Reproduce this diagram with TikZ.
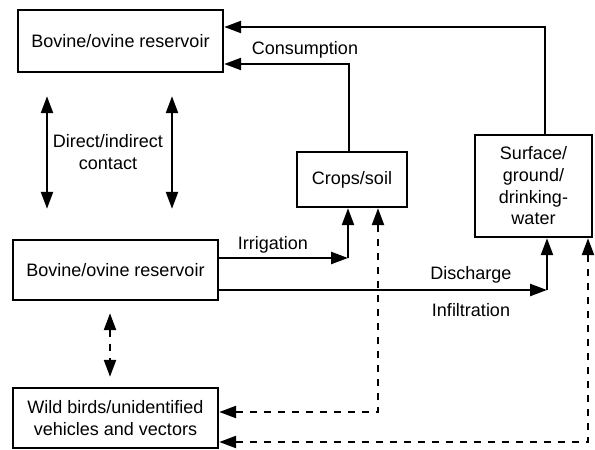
\documentclass[tikz,border=0pt]{standalone}
\usepackage{fontspec}
\setmainfont{Liberation Sans}
\usetikzlibrary{arrows.meta}

\begin{document}
\begin{tikzpicture}[x=1pt,y=-1pt,
		box/.style={draw,line width=2.4pt,align=center,inner sep=0pt,font=\fontsize{18}{21.7}\selectfont},
		lbl/.style={font=\fontsize{18}{21.7}\selectfont,align=center},
		flow/.style={line width=2.4pt,-{Triangle[length=17pt,width=12pt]}},
		twoway/.style={line width=2.4pt,{Triangle[length=17pt,width=12pt]}-{Triangle[length=17pt,width=12pt]}},
		dashflow/.style={twoway,dash pattern=on 7pt off 7pt}]
		\useasboundingbox (0,0) rectangle (595,450);

		% Boxes
		\node[box,minimum width=205pt,minimum height=62pt] (topres) at (120.5,41) {Bovine/ovine reservoir};
		\node[box,minimum width=205pt,minimum height=60pt] (midres) at (115.5,270) {Bovine/ovine reservoir};
		\node[box,minimum width=205pt,minimum height=60pt] (wild) at (115.5,418) {Wild birds/unidentified\\vehicles and vectors};
		\node[box,minimum width=110pt,minimum height=55pt] (crops) at (352,179.5) {Crops/soil};
		\node[box,minimum width=117pt,minimum height=102pt] (water) at (533.5,186) {Surface/\\ground/\\drinking-\\water};

		% Corners
		\coordinate (irr) at (348,258);
		\coordinate (dis) at (547,290);
		\coordinate (cropdrop) at (378,412);
		\coordinate (waterdrop) at (588,442);

		% Flows back to the top reservoir
		\draw[flow] ([xshift=11.5pt]water.north) |- ([yshift=14pt]topres.east);
		\draw[flow] ([xshift=-3pt]crops.north) |- ([yshift=-23pt]topres.east);
		\node[lbl] (consum) at (305,50) {Consumption};

		% Contact
		\draw[twoway,shorten <=23pt,shorten >=30pt] ([xshift=-73.5pt]topres.south) -- ([xshift=-73.5pt]topres.south |- midres.north);
		\draw[twoway,shorten <=23pt,shorten >=30pt] ([xshift=51.5pt]topres.south) -- ([xshift=51.5pt]topres.south |- midres.north);
		\node[lbl] (contact) at (108,152) {Direct/indirect\\contact};
		\draw[dashflow,shorten <=12pt,shorten >=10pt] ([xshift=-5.5pt]midres.south) -- ([xshift=-5.5pt]midres.south |- wild.north);

		% Irrigation and discharge
		\draw[flow] ([yshift=12pt]midres.east) -- (irr);
		\draw[flow] (irr) -- (crops.south -| irr);
		\node[lbl] (irrlbl) at (273,245) {Irrigation};
		\draw[flow] ([yshift=-20pt]midres.east) -- (dis);
		\draw[flow] (dis) -- (water.south -| dis);
		\node[lbl] (dislbl) at (471,275) {Discharge};
		\node[lbl] (inflbl) at (471,310) {Infiltration};

		% Back to wild birds
		\draw[dashflow] (wild.east |- cropdrop) -- (cropdrop) -- (crops.south -| cropdrop);
		\draw[dashflow] (wild.east |- waterdrop) -- (waterdrop) -- (water.south -| waterdrop);
	\end{tikzpicture}
\end{document}
